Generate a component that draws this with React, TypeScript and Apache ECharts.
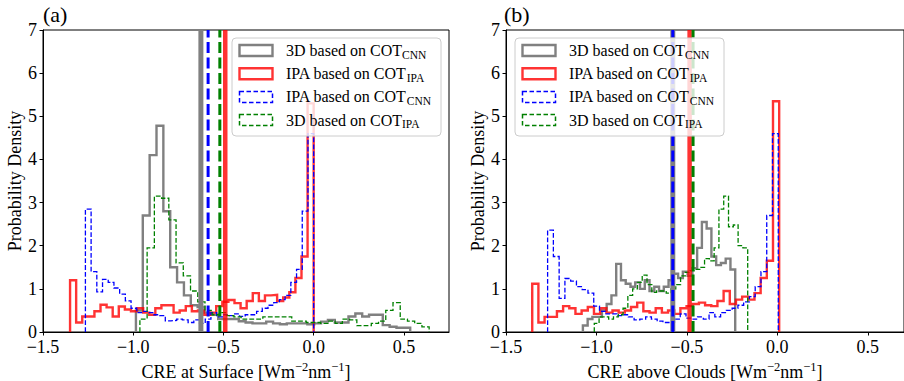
import React, { useEffect, useRef } from "react";
import * as echarts from "echarts";

// ---------- data ----------
const xTicks = [-1.5, -1.0, -0.5, 0.0, 0.5];
const yMax = 7;

const legendMain = ["3D based on COT", "IPA based on COT", "IPA based on COT", "3D based on COT"];
const legendSub = ["CNN", "IPA", "CNN", "IPA"];

// Panel (a): CRE at Surface — bin range [start, end] and densities
const grayARange = [-0.985, 0.535];
const grayA = [0.5, 2.7, 4.1, 4.78, 2.8, 1.5, 1.15, 0.85, 0.62, 0.58, 0.45, 0.4, 0.3, 0.3, 0.3, 0.25, 0.22, 0.2, 0.2, 0.24,
  0.2, 0.18, 0.2, 0.2, 0.2, 0.18, 0.2, 0.24, 0.28, 0.22, 0.22, 0.36, 0.43, 0.36, 0.4, 0.4, 0.16, 0.12, 0.1, 0.1];
const redARange = [-1.35, 0.0];
const redA = [1.2, 0.22, 0.36, 0.36, 0.48, 0.63, 0.57, 0.36, 0.59, 0.52, 0.48, 0.55, 0.45, 0.4, 0.55, 0.62, 0.62, 0.45, 0.5, 0.6,
  0.48, 0.5, 0.4, 0.45, 0.6, 0.7, 0.74, 0.67, 0.55, 0.72, 0.9, 0.72, 0.85, 0.86, 0.72, 0.8, 0.92, 1.25, 1.75, 5.3];
const blueARange = [-1.265, 0.0];
const blueA = [2.85, 1.4, 0.93, 1.22, 1.15, 1.02, 0.88, 0.72, 0.55, 0.45, 0.48, 0.45, 0.4, 0.38, 0.26, 0.27, 0.3, 0.28, 0.22, 0.28,
  0.2, 0.3, 0.45, 0.35, 0.4, 0.38, 0.42, 0.36, 0.4, 0.4, 0.48, 0.55, 0.62, 0.68, 0.75, 0.85, 1.15, 1.45, 2.8, 4.6];
const greenARange = [-0.963, 0.64];
const greenA = [0.3, 1.95, 3.15, 3.1, 2.6, 1.6, 1.3, 0.95, 0.7, 0.5, 0.4, 0.45, 0.38, 0.35, 0.3, 0.3, 0.3, 0.35, 0.35, 0.35,
  0.35, 0.25, 0.25, 0.22, 0.22, 0.2, 0.25, 0.2, 0.3, 0.28, 0.15, 0.15, 0.2, 0.25, 0.5, 0.68, 0.3, 0.25, 0.2, 0.12];
// mean lines: gray, red, blue, green
const meansA = [-0.625, -0.49, -0.585, -0.52];

// Panel (b): CRE above Clouds
const grayBRange = [-1.075, -0.233];
const grayB = [0.15, 0.3, 0.35, 0.35, 0.5, 0.65, 0.85, 1.58, 1.2, 1.12, 1.05, 1.15, 1.0, 1.2, 0.95, 1.05, 0.95, 1.05, 1.2, 1.35,
  1.25, 1.4, 1.3, 1.48, 1.95, 2.55, 2.4, 1.75, 1.55, 1.6, 1.7, 1.45];
const redBRange = [-1.355, 0.01];
const redB = [1.12, 0.22, 0.35, 0.35, 0.48, 0.6, 0.55, 0.42, 0.5, 0.58, 0.42, 0.55, 0.45, 0.5, 0.45, 0.5, 0.58, 0.68, 0.48, 0.45,
  0.55, 0.45, 0.5, 0.42, 0.55, 0.6, 0.65, 0.68, 0.62, 0.6, 0.72, 0.95, 0.65, 0.75, 0.82, 0.75, 0.9, 1.25, 1.65, 5.35];
const blueBRange = [-1.27, 0.005];
const blueB = [2.36, 1.75, 0.78, 1.24, 1.18, 1.05, 0.98, 0.9, 0.6, 0.48, 0.42, 0.42, 0.38, 0.4, 0.35, 0.28, 0.3, 0.35, 0.3, 0.25,
  0.22, 0.22, 0.3, 0.42, 0.32, 0.3, 0.35, 0.3, 0.45, 0.35, 0.45, 0.5, 0.55, 0.62, 0.7, 0.82, 1.05, 1.4, 2.7, 4.6];
const greenBRange = [-1.012, -0.164];
const greenB = [0.2, 0.35, 0.35, 0.3, 0.35, 0.4, 0.55, 0.85, 1.0, 1.15, 1.32, 1.1, 0.92, 0.95, 0.95, 0.9, 1.0, 1.1, 1.3, 1.38,
  1.42, 1.45, 1.5, 1.7, 1.65, 1.95, 2.85, 3.15, 2.44, 2.48, 2.0, 1.95];
const meansB = [-0.578, -0.485, -0.578, -0.466];

// ---------- styles ----------
const FONT = "Liberation Serif";
const RED = "rgba(255,0,0,0.8)";
const GRAY = "#808080";
const BLUE = "#0000ff";
const GREEN = "#008000";
const colors = [GRAY, RED, BLUE, GREEN];
const histWidths = [2.4, 2.4, 1.3, 1.3];
const histDash: any[] = ["solid", "solid", [4.8, 2.1], [4.8, 2.1]];
const meanWidths = [5, 4.5, 3, 3];
const meanDash: any[] = ["solid", "solid", [11, 4.5], [11, 4.5]];

function stepPoints(range: number[], vals: number[]) {
  const [s, e] = range;
  const w = (e - s) / vals.length;
  const pts: number[][] = [[s, 0]];
  vals.forEach((v, i) => {
    pts.push([s + i * w, v]);
    pts.push([s + (i + 1) * w, v]);
  });
  pts.push([e, 0]);
  return pts;
}

const fmtX = (v: number) => "{t|" + (v < 0 ? "\u2212" : "") + Math.abs(v).toFixed(1) + "}";
const fmtY = (v: number) => "{t|" + v + "}";
const xTickRich = { t: { fontFamily: FONT, fontSize: 18, color: "#000", lineHeight: 18 } };
const yTickRich = { t: { fontFamily: FONT, fontSize: 18, color: "#000", lineHeight: 12 } };

function App() {
  const ref = useRef<HTMLDivElement>(null);
  useEffect(() => {
    if (!ref.current) return;
    const chart = echarts.init(ref.current, undefined, { renderer: "svg" });

    const grids = [
      { left: 43, top: 30, width: 406, height: 302 },
      { left: 506, top: 30, width: 398, height: 302 },
    ];
    const xMax = [0.75, 0.7];
    const xNames = ["CRE at Surface [Wm", "CRE above Clouds [Wm"];

    const xAxis = grids.map((_, i) => ({
      type: "value",
      gridIndex: i,
      min: -1.5,
      max: xMax[i],
      interval: 0.5,
      name: `{n|${xNames[i]}}{s|\u22122}{n|nm}{s|\u22121}{n|]}`,
      nameLocation: "middle",
      nameGap: 24,
      nameTextStyle: {
        fontFamily: FONT,
        rich: {
          n: { fontFamily: FONT, fontSize: 18, color: "#000", lineHeight: 22 },
          s: { fontFamily: FONT, fontSize: 12.5, color: "#000", lineHeight: 13, verticalAlign: "top" },
        },
      },
      axisLine: { show: true, onZero: false, lineStyle: { color: "#000", width: 1 } },
      axisTick: { show: true, length: 3.5, lineStyle: { color: "#000" }, customValues: xTicks },
      axisLabel: {
        fontFamily: FONT, fontSize: 18, color: "#000", margin: 6,
        customValues: xTicks, formatter: fmtX, rich: xTickRich,
      },
      splitLine: { show: false },
    }));

    const yAxis = grids.map((_, i) => ({
      type: "value",
      gridIndex: i,
      min: 0,
      max: yMax,
      interval: 1,
      name: "Probability Density",
      nameLocation: "middle",
      nameGap: 16,
      nameTextStyle: { fontFamily: FONT, fontSize: 18, color: "#000" },
      axisLine: { show: true, onZero: false, lineStyle: { color: "#000", width: 1 } },
      axisTick: { show: true, length: 3.5, lineStyle: { color: "#000" } },
      axisLabel: { fontFamily: FONT, fontSize: 18, color: "#000", margin: 6, formatter: fmtY, rich: yTickRich },
      splitLine: { show: false },
    }));

    const hists = [
      [grayA, redA, blueA, greenA],
      [grayB, redB, blueB, greenB],
    ];
    const ranges = [
      [grayARange, redARange, blueARange, greenARange],
      [grayBRange, redBRange, blueBRange, greenBRange],
    ];
    const means = [meansA, meansB];

    const series: any[] = [];
    for (let p = 0; p < 2; p++) {
      for (let k = 0; k < 4; k++) {
        series.push({
          type: "line",
          name: legendMain[k] + legendSub[k],
          xAxisIndex: p,
          yAxisIndex: p,
          data: stepPoints(ranges[p][k], hists[p][k]),
          showSymbol: false,
          symbol: "none",
          silent: true,
          z: 2 + k,
          lineStyle: { color: colors[k], width: histWidths[k], type: histDash[k], join: "miter" },
        });
      }
      for (let k = 0; k < 4; k++) {
        series.push({
          type: "line",
          xAxisIndex: p,
          yAxisIndex: p,
          data: [[means[p][k], 0], [means[p][k], yMax]],
          showSymbol: false,
          symbol: "none",
          silent: true,
          z: 10 + k,
          lineStyle: { color: colors[k], width: meanWidths[k], type: meanDash[k] },
        });
      }
    }

    const legendPos = [
      { x: 232, y: 38 },
      { x: 515, y: 38 },
    ];
    const handleWidths = [2.4, 2.4, 1.5, 1.5];
    const handleDash: any[] = [null, null, [4.5, 2.5], [4.5, 2.5]];
    const graphic: any[] = [];
    legendPos.forEach((lp) => {
      graphic.push({
        type: "rect",
        z: 100,
        shape: { x: lp.x, y: lp.y, width: 209, height: 98, r: 4 },
        style: { fill: "rgba(255,255,255,0.8)", stroke: "#cccccc", lineWidth: 1 },
      });
      for (let k = 0; k < 4; k++) {
        const rowY = lp.y + 12.5 + k * 23.2;
        graphic.push({
          type: "rect",
          z: 101,
          shape: { x: lp.x + 7.5, y: rowY - 5.5, width: 33, height: 11 },
          style: {
            fill: "transparent",
            stroke: colors[k],
            lineWidth: handleWidths[k],
            lineDash: handleDash[k],
          },
        });
        graphic.push({
          type: "text",
          z: 101,
          x: lp.x + 54,
          y: rowY,
          style: {
            text: `{m|${legendMain[k]}}{s|${legendSub[k]}}`,
            verticalAlign: "middle",
            align: "left",
            rich: {
              m: { fontFamily: FONT, fontSize: 16, fill: "#000", lineHeight: 20 },
              s: { fontFamily: FONT, fontSize: 11.5, fill: "#000", lineHeight: 14, verticalAlign: "bottom" },
            },
          },
        });
      }
    });
    graphic.push({
      type: "text", z: 101, x: 43, y: 3,
      style: { text: "(a)", fontFamily: FONT, fontSize: 22, fill: "#000" },
    });
    graphic.push({
      type: "text", z: 101, x: 504, y: 3,
      style: { text: "(b)", fontFamily: FONT, fontSize: 22, fill: "#000" },
    });

    chart.setOption({
      animation: false,
      backgroundColor: "#ffffff",
      textStyle: { fontFamily: FONT },
      grid: grids.map((g) => ({
        ...g,
        outerBoundsMode: "none",
        containLabel: false,
        show: true,
        borderColor: "#000",
        borderWidth: 1,
        backgroundColor: "transparent",
      })),
      xAxis,
      yAxis,
      series,
      graphic,
    });
    return () => chart.dispose();
  }, []);
  return (
    <div
      ref={ref}
      style={{ position: "fixed", left: 0, top: 0, width: 904, height: 381, background: "#fff" }}
    />
  );
}

export default App;
